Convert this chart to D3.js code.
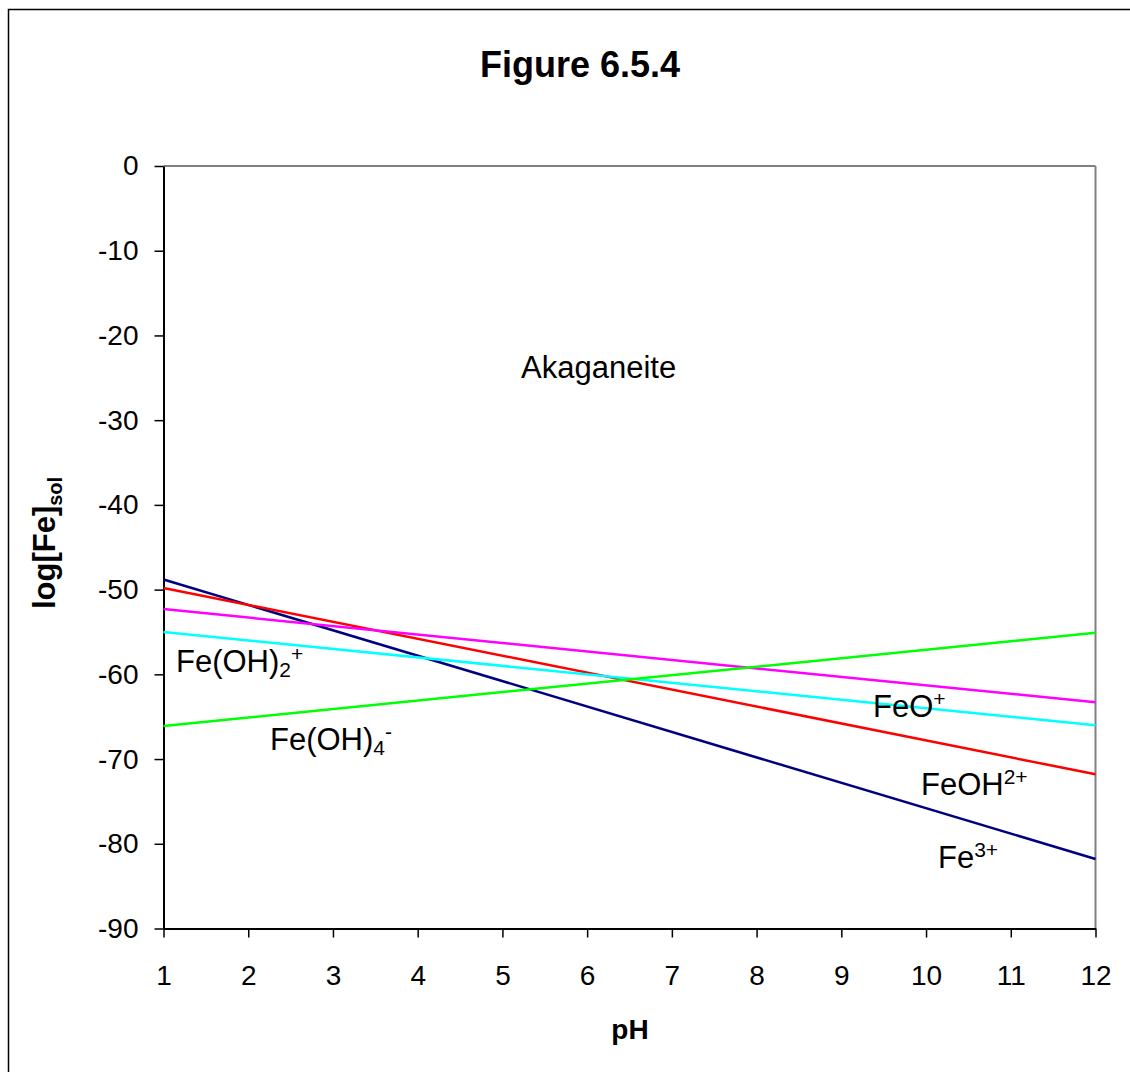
<!DOCTYPE html>
<html>
<head>
<meta charset="utf-8">
<script src="https://cdn.jsdelivr.net/npm/d3@7"></script>
<style>
  html, body { margin: 0; padding: 0; background: #fff; }
  svg { display: block; font-family: "Liberation Sans", Arial, sans-serif; }
</style>
</head>
<body>
<svg id="chart" width="1130" height="1072"></svg>
<script>
// ---- data ----
const pHValues = [1, 12];
const fe3 = [-48.8, -81.8];
const feOH2 = [-49.8, -71.8];
const feOHMagenta = [-52.3, -63.3];
const feOHCyan = [-55.0, -66.0];
const feOH4 = [-66.1, -55.1];
const seriesNames = ["Fe3+", "FeOH2+", "magenta", "cyan", "Fe(OH)4-"];
const seriesColors = ["#000080", "#FF0000", "#FF00FF", "#00FFFF", "#00FF00"];
const xTicks = [1, 2, 3, 4, 5, 6, 7, 8, 9, 10, 11, 12];
const yTicks = [0, -10, -20, -30, -40, -50, -60, -70, -80, -90];

const series = [fe3, feOH2, feOHMagenta, feOHCyan, feOH4].map((vals, i) => ({
  name: seriesNames[i], color: seriesColors[i],
  points: vals.map((v, j) => ({ x: pHValues[j], y: v }))
}));

// ---- layout ----
const svg = d3.select("#chart");
const L = 163.5, R = 1095.5, T = 166, B = 928.5;
const x = d3.scaleLinear().domain([1, 12]).range([L, R]);
const y = d3.scaleLinear().domain([-90, 0]).range([B, T]);
const fmt = v => String(v);

// outer frame
svg.append("rect").attr("x", 8.5).attr("y", 9.5).attr("width", 1140).attr("height", 1080)
  .attr("fill", "none").attr("stroke", "#000").attr("stroke-width", 1.5);

// title
svg.append("text").attr("x", 580).attr("y", 77).attr("text-anchor", "middle")
  .attr("font-size", 36).attr("font-weight", "bold").text("Figure 6.5.4");

// plot border top/right gray
svg.append("line").attr("x1", L).attr("x2", R).attr("y1", T).attr("y2", T)
  .attr("stroke", "#808080").attr("stroke-width", 2);
svg.append("line").attr("x1", R).attr("x2", R).attr("y1", T).attr("y2", B)
  .attr("stroke", "#808080").attr("stroke-width", 2);

// axes
const xAxis = d3.axisBottom(x).tickValues(xTicks).tickFormat(fmt)
  .tickSizeInner(9).tickSizeOuter(0).tickPadding(28);
const gx = svg.append("g").attr("transform", `translate(0,${B})`).call(xAxis);
gx.select(".domain").attr("stroke", "#000").attr("stroke-width", 2);
gx.selectAll(".tick line").attr("stroke", "#000").attr("stroke-width", 1.5);
gx.selectAll(".tick text").attr("font-size", 28).attr("font-family", "Liberation Sans, Arial, sans-serif")
  .attr("fill", "#000");

const yAxis = d3.axisLeft(y).tickValues(yTicks).tickFormat(fmt)
  .tickSizeInner(9).tickSizeOuter(0).tickPadding(16);
const gy = svg.append("g").attr("transform", `translate(${L},0)`).call(yAxis);
gy.select(".domain").attr("stroke", "#000").attr("stroke-width", 2);
gy.selectAll(".tick line").attr("stroke", "#000").attr("stroke-width", 1.5);
gy.selectAll(".tick text").attr("font-size", 28).attr("font-family", "Liberation Sans, Arial, sans-serif")
  .attr("fill", "#000");

// lines
const line = d3.line().x(d => x(d.x)).y(d => y(d.y));
svg.append("g").selectAll("path").data(series).join("path")
  .attr("d", d => line(d.points)).attr("fill", "none")
  .attr("stroke", d => d.color).attr("stroke-width", 2.5);

// axis titles
svg.append("text").attr("x", 630).attr("y", 1039).attr("text-anchor", "middle")
  .attr("font-size", 28).attr("font-weight", "bold").text("pH");

const yt = svg.append("text").attr("transform", "translate(55,543) rotate(-90)")
  .attr("text-anchor", "middle").attr("font-size", 31).attr("font-weight", "bold");
yt.append("tspan").text("log[Fe]");
yt.append("tspan").attr("font-size", 20).attr("dy", 7).text("sol");

// annotations
function label(xp, yp, parts) {
  const t = svg.append("text").attr("x", xp).attr("y", yp).attr("font-size", 31);
  let cur = 0;
  parts.forEach(p => {
    const shift = p.sub ? 5 : p.sup ? -11 : 0;
    t.append("tspan").attr("font-size", p.sub || p.sup ? 21 : 31)
      .attr("dy", shift - cur).text(p.t);
    cur = shift;
  });
}
label(521, 378, [{ t: "Akaganeite" }]);
label(176, 672, [{ t: "Fe(OH)" }, { t: "2", sub: true }, { t: "+", sup: true }]);
label(270, 750, [{ t: "Fe(OH)" }, { t: "4", sub: true }, { t: "-", sup: true }]);
label(873, 717, [{ t: "FeO" }, { t: "+", sup: true }]);
label(921, 795, [{ t: "FeOH" }, { t: "2+", sup: true }]);
label(938, 868, [{ t: "Fe" }, { t: "3+", sup: true }]);
</script>
</body>
</html>
